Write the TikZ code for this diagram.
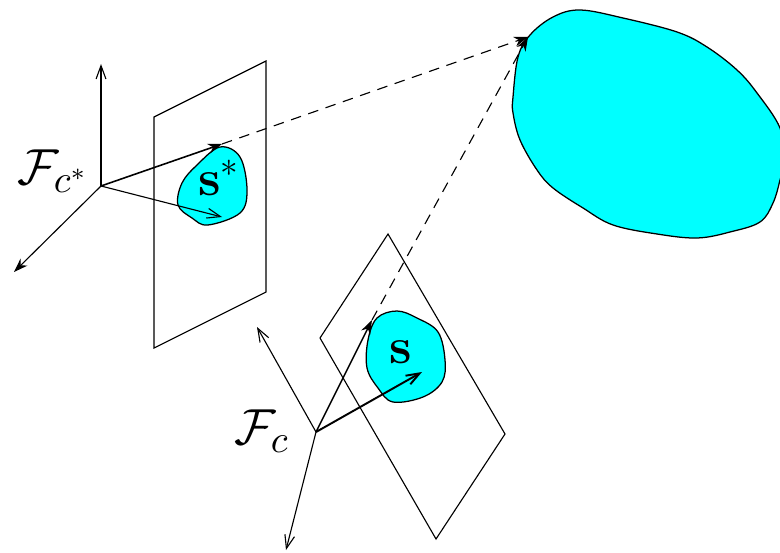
\documentclass[tikz,border=0pt]{standalone}
\usepackage{xcolor}
\usepackage{amsmath}
\usetikzlibrary{arrows.meta}
\definecolor{patchcyan}{HTML}{00FFFF}

\begin{document}
\begin{tikzpicture}[x=0.01cm, y=-0.01cm, line width=0.32pt,
    axis/.style={-{Straight Barb[length=3.8pt,width=2.8pt]}},
    ray/.style={-{Stealth[length=4pt,width=2.8pt]}},
    patch/.style={draw, fill=patchcyan, line width=0.36pt},
    chase/.style={ray, dash pattern=on 3pt off 2.2pt}]
  \useasboundingbox (0,0) rectangle (780,552);

  % Plane of c*
  \draw (154,117) -- (266,61) -- (266,292) -- (154,348) -- cycle;

  % Plane of c
  \draw (388,234) -- (505,434) -- (436,539) -- (320,338) -- cycle;

  % Patches
  \draw[patch] plot[smooth cycle, tension=0.6] coordinates {(220,147) (240,157) (247,190) (240,213) (208,225) (192,218) (178,205) (182,183) (197,165)};
  \draw[patch] plot[smooth cycle, tension=0.6] coordinates {(397,311) (377,318) (368,340) (367,368) (378,388) (393,402) (423,397) (442,382) (445,360) (438,332) (417,318)};
  \draw[patch] plot[smooth cycle, tension=0.6] coordinates {(530,35) (553,17) (580,10) (623,18) (677,32) (707,47) (737,70) (757,93) (780,128) (784,160) (780,180) (773,203) (760,222) (730,232) (697,238) (657,234) (613,225) (583,208) (553,188) (537,170) (520,140) (513,113) (513,97) (518,57)};

  % Points
  \coordinate (cstar) at (101,186);
  \coordinate (cstarup) at (101,64);
  \coordinate (cstardown) at (14,272);
  \coordinate (cstarray) at (222,144);
  \coordinate (cstarside) at (222,217);
  \coordinate (corig) at (316,432);
  \coordinate (cup) at (257,327);
  \coordinate (cdown) at (286,550);
  \coordinate (cray) at (372,320);
  \coordinate (cside) at (422,372);
  \coordinate (apex) at (528,37);

  % Frame c*
  \draw[axis] (cstar) -- (cstarup);
  \draw[ray] (cstar) -- (cstardown);
  \draw[ray, line width=0.45pt] (cstar) -- (cstarray);
  \draw[axis] (cstar) -- (cstarside);

  % Frame c
  \draw[axis] (corig) -- (cup);
  \draw[axis] (corig) -- (cdown);
  \draw[ray, line width=0.4pt] (corig) -- (cray);
  \draw[axis, line width=0.55pt] (corig) -- (cside);

  % Dashed rays
  \draw[chase] (cstarray) -- (apex);
  \draw[chase] (cray) -- (apex);

  % Labels
  \node[font=\Large] (sstar) at (219,178) {$\mathbf{s}^*$};
  \node[font=\Large] (s) at (401,352) {$\mathbf{s}$};
  \node[font=\fontsize{15}{18}\selectfont] (fstar) at (53,171) {$\mathcal{F}_{c^*}$};
  \node[font=\fontsize{15}{18}\selectfont] (f) at (262,431) {$\mathcal{F}_c$};
\end{tikzpicture}
\end{document}
